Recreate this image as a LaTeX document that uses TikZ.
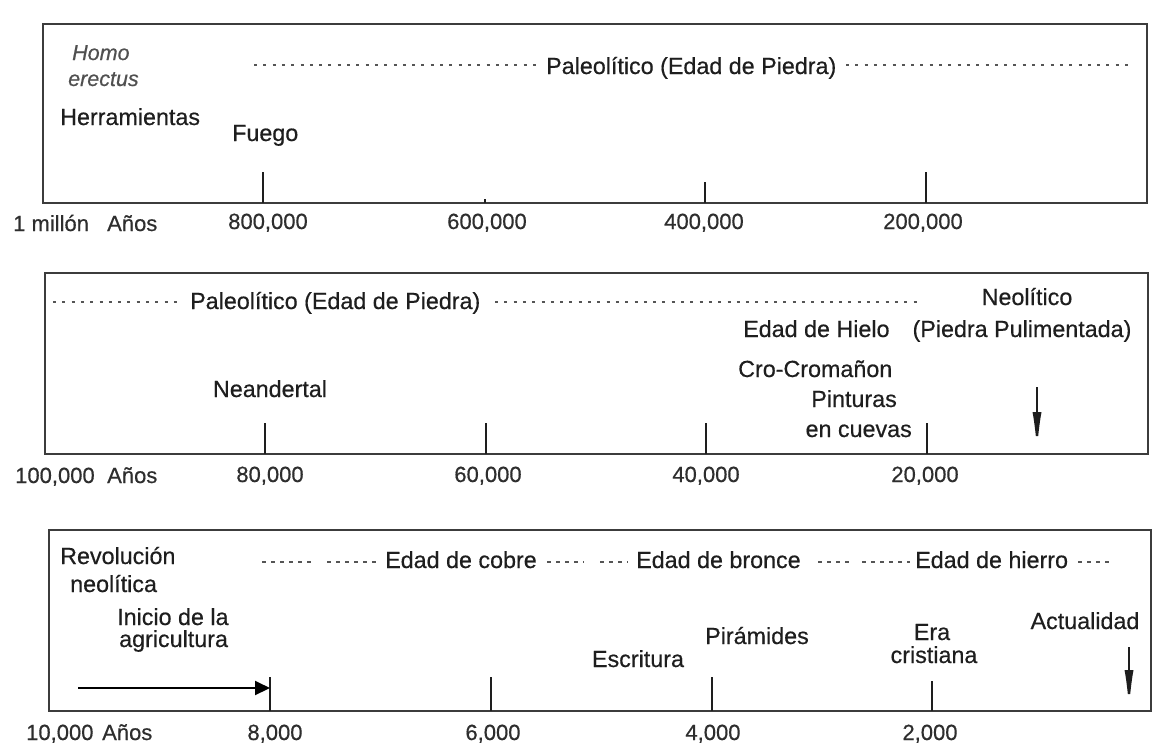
\documentclass[tikz,border=0pt]{standalone}
\usepackage{fontspec}
\setmainfont[FakeBold=0.5]{Liberation Sans}
\usetikzlibrary{arrows.meta}
\definecolor{ink}{HTML}{1E1E1E}
\definecolor{boxc}{HTML}{3C3C3C}
\definecolor{dotc}{HTML}{555555}
\definecolor{numc}{HTML}{2E2E2E}
\definecolor{homoc}{HTML}{505050}
\begin{document}
\begin{tikzpicture}[x=1pt,y=-1pt,
  lbl/.style={anchor=base west,inner sep=0pt,text=ink,font=\fontsize{23.3}{25}\selectfont},
  lblc/.style={lbl,anchor=base},
  lble/.style={lbl,anchor=base east},
  num/.style={anchor=base west,inner sep=0pt,text=numc,font=\fontsize{22}{24}\selectfont},
  homo/.style={anchor=base west,inner sep=0pt,text=homoc,font=\fontsize{21.5}{23}\selectfont\itshape},
  panel/.style={draw=boxc,line width=2.4pt},
  tick/.style={draw=ink,line width=2pt},
  dots/.style={draw=dotc,line width=2pt,dash pattern=on 3pt off 6.3pt},
  dashes/.style={draw=dotc,line width=1.8pt,dash pattern=on 4pt off 5pt},
  downarrow/.style={draw=ink,line width=2.4pt,-{Latex[length=40pt,width=9pt]}},
  rightarrow/.style={draw=black,line width=2pt,-{Triangle[length=15pt,width=14pt]}}
]
\useasboundingbox (0,0) rectangle (1155,745);

% ---------------- Panel 1 ----------------
\draw[panel] (43,24) rectangle (1147,203);
\draw[tick] (263,172) -- (263,203);
\draw[tick] (485,199) -- (485,203);
\draw[tick] (705,182) -- (705,203);
\draw[tick] (926,172) -- (926,203);

\node[homo] (homo1) at (72,60) {Homo};
\node[homo] (homo2) at (68,86) {erectus};
\node[lbl] (herr) at (60,125) {Herramientas};
\node[lbl] (fuego) at (232,141) {Fuego};

\node[lbl] (pal1) at (546,74) {Paleolítico (Edad de Piedra)};
\coordinate (d1a) at (254,65);
\coordinate (d1b) at (538,65);
\coordinate (d1c) at (846,65);
\coordinate (d1d) at (1132,65);
\draw[dots] (d1a) -- (d1b);
\draw[dots] (d1c) -- (d1d);

\node[num] (n1a) at (13,231) {1 millón};
\node[num] (n1b) at (107,231) {Años};
\node[num,anchor=base] (n1c) at (268,229) {800,000};
\node[num,anchor=base] (n1d) at (487,229) {600,000};
\node[num,anchor=base] (n1e) at (704,229) {400,000};
\node[num,anchor=base] (n1f) at (923,229) {200,000};

% ---------------- Panel 2 ----------------
\draw[panel] (45,273) rectangle (1148,454);
\draw[tick] (265,423) -- (265,454);
\draw[tick] (486,423) -- (486,454);
\draw[tick] (706,423) -- (706,454);
\draw[tick] (927,423) -- (927,454);

\node[lbl] (pal2) at (190,309) {Paleolítico (Edad de Piedra)};
\coordinate (d2a) at (53,302);
\coordinate (d2b) at (182,302);
\coordinate (d2c) at (495,302);
\coordinate (d2d) at (918,302);
\draw[dots] (d2a) -- (d2b);
\draw[dots] (d2c) -- (d2d);

\node[lblc] (neo1) at (1027,305) {Neolítico};
\node[lblc] (neo2) at (1022,337) {(Piedra Pulimentada)};
\node[lbl] (hielo) at (743,337) {Edad de Hielo};
\node[lbl] (cro) at (738,377) {Cro-Cromañon};
\node[lble] (pint) at (897,407) {Pinturas};
\node[lble] (cuev) at (912,437) {en cuevas};
\node[lblc] (nean) at (270,397) {Neandertal};

\coordinate (neoA) at (1037,387);
\coordinate (neoB) at (1037,452);
\draw[downarrow] (neoA) -- (neoB);

\node[num] (n2a) at (15,483) {100,000};
\node[num] (n2b) at (107,483) {Años};
\node[num,anchor=base] (n2c) at (270,482) {80,000};
\node[num,anchor=base] (n2d) at (488,482) {60,000};
\node[num,anchor=base] (n2e) at (706,482) {40,000};
\node[num,anchor=base] (n2f) at (925,482) {20,000};

% ---------------- Panel 3 ----------------
\draw[panel] (49,530) rectangle (1151,711);
\draw[tick] (270,677) -- (270,711);
\draw[tick] (491,677) -- (491,711);
\draw[tick] (712,677) -- (712,711);
\draw[tick] (932,681) -- (932,711);

\node[lbl] (rev1) at (60,564) {Revolución};
\node[lbl] (rev2) at (70,592) {neolítica};
\node[lbl] (ini1) at (117,625) {Inicio de la};
\node[lbl] (ini2) at (119,647) {agricultura};

\coordinate (agrA) at (78,688);
\coordinate (agrB) at (270,688);
\draw[rightarrow] (agrA) -- (agrB);

\node[lbl] (cobre) at (385,568) {Edad de cobre};
\node[lbl] (bronce) at (636,568) {Edad de bronce};
\node[lbl] (hierro) at (915,568) {Edad de hierro};
\coordinate (e1a) at (262,562); \coordinate (e1b) at (311,562);
\coordinate (e2a) at (327,562); \coordinate (e2b) at (377,562);
\coordinate (e3a) at (547,562); \coordinate (e3b) at (584,562);
\coordinate (e4a) at (600,562); \coordinate (e4b) at (628,562);
\coordinate (e5a) at (818,562); \coordinate (e5b) at (849,562);
\coordinate (e6a) at (862,562); \coordinate (e6b) at (910,562);
\coordinate (e7a) at (1078,562); \coordinate (e7b) at (1109,562);
\draw[dashes] (e1a) -- (e1b);
\draw[dashes] (e2a) -- (e2b);
\draw[dashes] (e3a) -- (e3b);
\draw[dashes] (e4a) -- (e4b);
\draw[dashes] (e5a) -- (e5b);
\draw[dashes] (e6a) -- (e6b);
\draw[dashes] (e7a) -- (e7b);

\node[lblc] (escr) at (638,667) {Escritura};
\node[lblc] (pira) at (757,644) {Pirámides};
\node[lblc] (era1) at (932,640) {Era};
\node[lblc] (era2) at (934,663) {cristiana};
\node[lblc] (actu) at (1085,629) {Actualidad};

\coordinate (actA) at (1129,647);
\coordinate (actB) at (1129,710);
\draw[downarrow] (actA) -- (actB);

\node[num] (n3a) at (26,740) {10,000};
\node[num] (n3b) at (102,740) {Años};
\node[num,anchor=base] (n3c) at (275,740) {8,000};
\node[num,anchor=base] (n3d) at (493,740) {6,000};
\node[num,anchor=base] (n3e) at (713,740) {4,000};
\node[num,anchor=base] (n3f) at (930,740) {2,000};
\end{tikzpicture}
\end{document}
